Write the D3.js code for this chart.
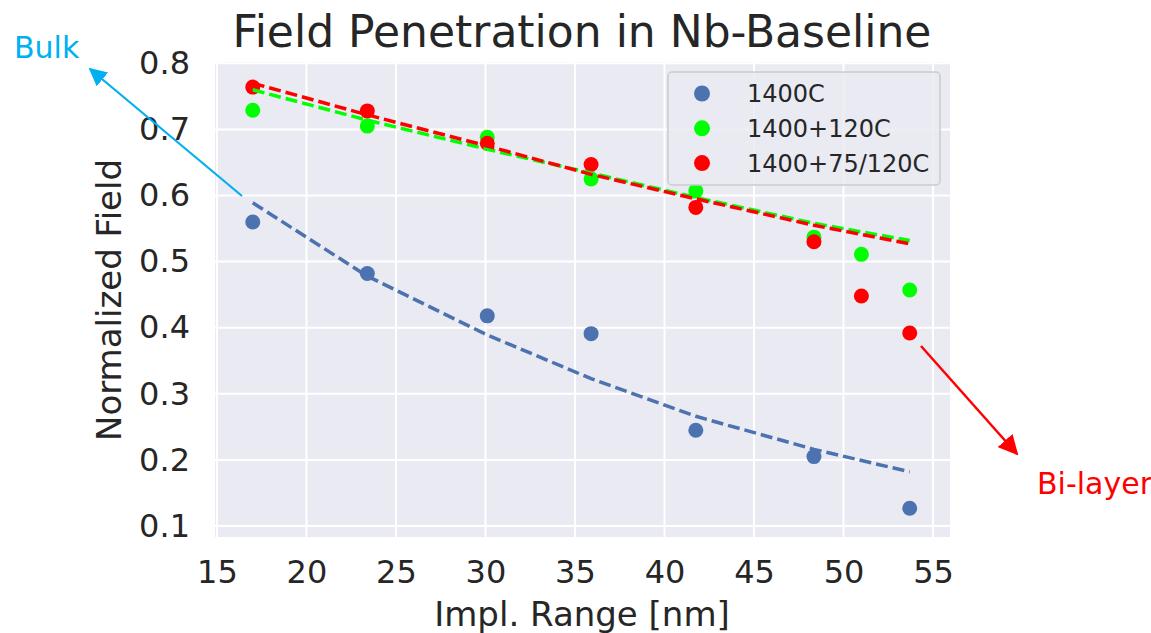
<!DOCTYPE html>
<html>
<head>
<meta charset="utf-8">
<script src="https://cdn.jsdelivr.net/npm/d3@7"></script>
<style>
    body { margin: 0; background: #fff; }
    svg text { font-family: 'DejaVu Sans', sans-serif; fill: #262626; }
</style>
</head>
<body>
<svg class="chartArea"></svg>
<script>
// values
var xTicks = [15, 20, 25, 30, 35, 40, 45, 50, 55];
var yTicks = [0.1, 0.2, 0.3, 0.4, 0.5, 0.6, 0.7, 0.8];

var xBlue = [17, 23.4, 30.1, 35.9, 41.75, 48.35, 53.7];
var yBlue = [0.560, 0.482, 0.418, 0.391, 0.245, 0.205, 0.127];
var fitBlue = [0.589, 0.478, 0.389, 0.323, 0.266, 0.216, 0.182];

var xLayer = [17, 23.4, 30.1, 35.9, 41.75, 48.35, 51.0, 53.7];
var yGreen = [0.729, 0.705, 0.688, 0.625, 0.607, 0.537, 0.511, 0.457];
var fitGreen = [0.760, 0.714, 0.670, 0.634, 0.597, 0.558, 0.545, 0.532];
var yRed = [0.764, 0.728, 0.679, 0.647, 0.582, 0.530, 0.448, 0.392];
var fitRed = [0.770, 0.722, 0.675, 0.632, 0.595, 0.555, 0.541, 0.527];

var seriesNames = ['1400C', '1400+120C', '1400+75/120C'];
var seriesColors = ['#4c72b0', '#00ff00', '#ff0000'];

function drawChart(areaID) {
    var totalWidth = 1151, totalHeight = 633;
    var margin = { top: 62, right: 201, bottom: 96, left: 215 },
        width = totalWidth - margin.left - margin.right,
        height = totalHeight - margin.top - margin.bottom;
    var dotRadius = 7.5;

    var x = d3.scaleLinear().domain([14.89, 55.95]).range([0, width]);
    var y = d3.scaleLinear().domain([0.0834, 0.802]).range([height, 0]);

    var svg = d3.select('.' + areaID)
        .attr('width', totalWidth)
        .attr('height', totalHeight);

    var defs = svg.append('defs');
    function addHead(id, color, size) {
        defs.append('marker')
            .attr('id', id)
            .attr('viewBox', '0 0 10 10')
            .attr('refX', 9)
            .attr('refY', 5)
            .attr('markerUnits', 'userSpaceOnUse')
            .attr('markerWidth', size)
            .attr('markerHeight', size)
            .attr('orient', 'auto')
            .append('path')
            .attr('d', 'M0,0 L10,5 L0,10 Z')
            .attr('fill', color);
    }
    addHead('headBlue', '#00b0f0', 18);
    addHead('headRed', '#ff0000', 20);

    var chart = svg.append('g')
        .attr('transform', 'translate(' + margin.left + ',' + margin.top + ')');

    // background and grid
    chart.append('rect')
        .attr('width', width)
        .attr('height', height)
        .attr('fill', '#eaeaf2');

    chart.append('g')
        .selectAll('line')
        .data(xTicks)
        .enter()
        .append('line')
        .attr('x1', d => x(d)).attr('x2', d => x(d))
        .attr('y1', 0).attr('y2', height)
        .attr('stroke', '#fff').attr('stroke-width', 2);

    chart.append('g')
        .selectAll('line')
        .data(yTicks)
        .enter()
        .append('line')
        .attr('x1', 0).attr('x2', width)
        .attr('y1', d => y(d)).attr('y2', d => y(d))
        .attr('stroke', '#fff').attr('stroke-width', 2);

    // axes (no domain line, no tick marks)
    var xAxis = d3.axisBottom(x).tickValues(xTicks).tickSize(0).tickPadding(23);
    var yAxis = d3.axisLeft(y).tickValues(yTicks).tickSize(0).tickPadding(25)
        .tickFormat(d3.format('.1f'));

    chart.append('g')
        .attr('class', 'x axis')
        .attr('transform', 'translate(0,' + height + ')')
        .call(xAxis)
        .call(g => g.select('.domain').remove())
        .selectAll('text')
        .attr('font-size', 32)
        .attr('font-family', 'DejaVu Sans')
        .attr('fill', '#262626');

    chart.append('g')
        .attr('class', 'y axis')
        .call(yAxis)
        .call(g => g.select('.domain').remove())
        .selectAll('text')
        .attr('font-size', 32)
        .attr('font-family', 'DejaVu Sans')
        .attr('fill', '#262626');

    // scatter points
    var points = [
        { xs: xBlue, ys: yBlue, color: seriesColors[0] },
        { xs: xLayer, ys: yGreen, color: seriesColors[1] },
        { xs: xLayer, ys: yRed, color: seriesColors[2] }
    ];
    points.forEach(p => {
        chart.append('g')
            .selectAll('circle')
            .data(p.xs.map((v, i) => [v, p.ys[i]]))
            .enter()
            .append('circle')
            .attr('cx', d => x(d[0]))
            .attr('cy', d => y(d[1]))
            .attr('r', dotRadius)
            .attr('fill', p.color);
    });

    // fit lines, drawn over the dots
    var fits = [
        { xs: xBlue, ys: fitBlue, color: seriesColors[0] },
        { xs: xLayer, ys: fitGreen, color: seriesColors[1] },
        { xs: xLayer, ys: fitRed, color: seriesColors[2] }
    ];
    var valueline = d3.line()
        .x(d => x(d[0]))
        .y(d => y(d[1]));

    fits.forEach(f => {
        chart.append('path')
            .datum(f.xs.map((v, i) => [v, f.ys[i]]))
            .attr('d', valueline)
            .attr('fill', 'none')
            .attr('stroke', f.color)
            .attr('stroke-width', 3.5)
            .attr('stroke-dasharray', '12,5');
    });

    // legend
    var legend = svg.append('g').attr('transform', 'translate(668,72)');
    legend.append('rect')
        .attr('width', 272)
        .attr('height', 113)
        .attr('rx', 4)
        .attr('fill', '#eaeaf2')
        .attr('fill-opacity', 0.85)
        .attr('stroke', '#cccccc')
        .attr('stroke-width', 1.5);
    seriesNames.forEach((name, i) => {
        var row = legend.append('g').attr('transform', 'translate(0,' + (21.5 + i * 34.8) + ')');
        row.append('circle')
            .attr('cx', 34)
            .attr('r', 8)
            .attr('fill', seriesColors[i]);
        row.append('text')
            .attr('x', 79)
            .attr('dy', '0.36em')
            .attr('font-size', 24)
            .text(name);
    });

    // title and axis titles
    svg.append('text')
        .attr('x', 582)
        .attr('y', 47)
        .attr('text-anchor', 'middle')
        .attr('font-size', 44)
        .text('Field Penetration in Nb-Baseline');

    svg.append('text')
        .attr('x', 582)
        .attr('y', 626)
        .attr('text-anchor', 'middle')
        .attr('font-size', 34)
        .text('Impl. Range [nm]');

    svg.append('text')
        .attr('transform', 'translate(121,300) rotate(-90)')
        .attr('text-anchor', 'middle')
        .attr('font-size', 34)
        .text('Normalized Field');

    // added annotations
    svg.append('line')
        .attr('x1', 242).attr('y1', 196)
        .attr('x2', 90).attr('y2', 69)
        .attr('stroke', '#00b0f0')
        .attr('stroke-width', 2.2)
        .attr('marker-end', 'url(#headBlue)');
    svg.append('text')
        .attr('x', 14)
        .attr('y', 58)
        .attr('font-family', 'Lato, sans-serif')
        .attr('font-size', 30)
        .style('fill', '#00b0f0')
        .text('Bulk');

    svg.append('line')
        .attr('x1', 921).attr('y1', 346)
        .attr('x2', 1017).attr('y2', 454)
        .attr('stroke', '#ff0000')
        .attr('stroke-width', 2.5)
        .attr('marker-end', 'url(#headRed)');
    svg.append('text')
        .attr('x', 1037)
        .attr('y', 494)
        .attr('font-family', 'Lato, sans-serif')
        .attr('font-size', 30)
        .style('fill', '#ff0000')
        .text('Bi-layer');
}

drawChart('chartArea');
</script>
</body>
</html>
